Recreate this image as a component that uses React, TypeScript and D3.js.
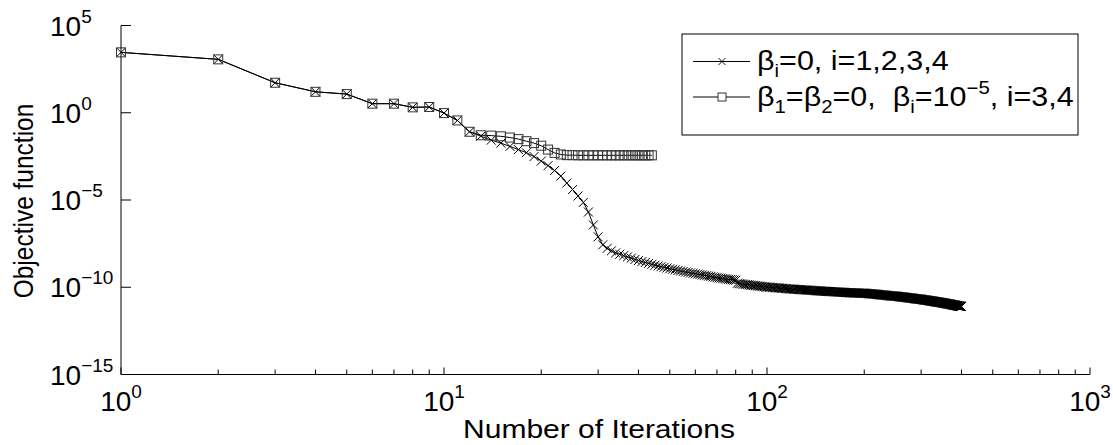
import React from 'react';
import * as d3 from 'd3';

// log10 of objective for series A (beta_i = 0), iterations 1..400
const seriesA_log10: number[] = [
  3.46, 3.06, 1.72, 1.20, 1.07, 0.52, 0.52, 0.31, 0.33, -0.02,
  -0.44, -1.09, -1.34, -1.57, -1.74, -1.93, -2.11, -2.29, -2.51, -2.77,
  -3.03, -3.31, -3.63, -4.03, -4.40, -4.77, -5.14, -5.69, -6.43, -7.11,
  -7.57, -7.77, -7.91, -8.03, -8.11, -8.19, -8.26, -8.33, -8.41, -8.47,
  -8.53, -8.58, -8.63, -8.69, -8.74, -8.78, -8.82, -8.86, -8.90, -8.94,
  -8.97, -9.00, -9.04, -9.07, -9.10, -9.13, -9.15, -9.18, -9.20, -9.23,
  -9.25, -9.27, -9.30, -9.32, -9.34, -9.36, -9.38, -9.41, -9.43, -9.45,
  -9.47, -9.48, -9.50, -9.52, -9.53, -9.55, -9.56, -9.57, -9.59, -9.60,
  -9.77, -9.79, -9.80, -9.82, -9.83, -9.84, -9.85, -9.86, -9.88, -9.89,
  -9.90, -9.91, -9.92, -9.93, -9.94, -9.95, -9.96, -9.97, -9.98, -9.99,
  -9.99, -10.00, -10.01, -10.01, -10.02, -10.03, -10.03, -10.04, -10.04, -10.05,
  -10.06, -10.06, -10.07, -10.07, -10.08, -10.09, -10.09, -10.10, -10.10, -10.11,
  -10.11, -10.12, -10.12, -10.13, -10.13, -10.13, -10.14, -10.14, -10.15, -10.15,
  -10.15, -10.16, -10.16, -10.17, -10.17, -10.17, -10.18, -10.18, -10.19, -10.19,
  -10.19, -10.20, -10.20, -10.21, -10.21, -10.21, -10.22, -10.22, -10.23, -10.23,
  -10.23, -10.23, -10.24, -10.24, -10.24, -10.25, -10.25, -10.25, -10.25, -10.26,
  -10.26, -10.26, -10.27, -10.27, -10.27, -10.27, -10.28, -10.28, -10.28, -10.29,
  -10.29, -10.29, -10.29, -10.30, -10.30, -10.30, -10.31, -10.31, -10.31, -10.31,
  -10.32, -10.32, -10.32, -10.32, -10.33, -10.33, -10.33, -10.33, -10.33, -10.33,
  -10.33, -10.33, -10.33, -10.34, -10.34, -10.34, -10.34, -10.34, -10.34, -10.34,
  -10.35, -10.35, -10.35, -10.36, -10.36, -10.36, -10.37, -10.37, -10.37, -10.38,
  -10.38, -10.38, -10.39, -10.39, -10.39, -10.40, -10.40, -10.41, -10.41, -10.41,
  -10.42, -10.42, -10.42, -10.43, -10.43, -10.44, -10.44, -10.44, -10.45, -10.45,
  -10.45, -10.46, -10.46, -10.47, -10.47, -10.47, -10.48, -10.48, -10.48, -10.49,
  -10.49, -10.49, -10.50, -10.50, -10.50, -10.50, -10.51, -10.51, -10.51, -10.51,
  -10.52, -10.52, -10.52, -10.53, -10.53, -10.53, -10.54, -10.54, -10.55, -10.55,
  -10.55, -10.56, -10.56, -10.56, -10.57, -10.57, -10.58, -10.58, -10.58, -10.59,
  -10.59, -10.59, -10.60, -10.60, -10.61, -10.61, -10.61, -10.62, -10.62, -10.62,
  -10.63, -10.63, -10.64, -10.64, -10.64, -10.65, -10.65, -10.66, -10.66, -10.66,
  -10.67, -10.67, -10.67, -10.68, -10.68, -10.68, -10.69, -10.69, -10.69, -10.69,
  -10.70, -10.70, -10.71, -10.71, -10.72, -10.72, -10.72, -10.73, -10.73, -10.74,
  -10.74, -10.74, -10.75, -10.75, -10.76, -10.76, -10.76, -10.77, -10.77, -10.78,
  -10.78, -10.78, -10.79, -10.79, -10.80, -10.80, -10.81, -10.81, -10.81, -10.82,
  -10.82, -10.83, -10.83, -10.83, -10.84, -10.84, -10.85, -10.85, -10.85, -10.86,
  -10.86, -10.87, -10.87, -10.87, -10.88, -10.88, -10.88, -10.89, -10.89, -10.89,
  -10.90, -10.90, -10.91, -10.91, -10.92, -10.92, -10.93, -10.93, -10.93, -10.94,
  -10.94, -10.95, -10.95, -10.96, -10.96, -10.96, -10.97, -10.97, -10.98, -10.98,
  -10.99, -10.99, -10.99, -11.00, -11.00, -11.01, -11.01, -11.02, -11.02, -11.02,
  -11.03, -11.03, -11.04, -11.04, -11.05, -11.05, -11.05, -11.06, -11.06, -11.07,
  -11.07, -11.07, -11.08, -11.08, -11.09, -11.09, -11.09, -11.10, -11.10, -11.10,
];

// log10 of objective for series B (beta1=beta2=0, beta_i=1e-5), iterations 1..44
const seriesB_log10: number[] = [
  3.46, 3.06, 1.72, 1.20, 1.07, 0.52, 0.52, 0.31, 0.33, -0.02,
  -0.44, -1.09, -1.29, -1.31, -1.35, -1.42, -1.51, -1.63, -1.74, -1.89,
  -2.11, -2.30, -2.39, -2.43, -2.43, -2.44, -2.44, -2.44, -2.44, -2.44,
  -2.44, -2.44, -2.44, -2.44, -2.44, -2.44, -2.44, -2.44, -2.44, -2.44,
  -2.44, -2.44, -2.44, -2.44,
];

const xTickExponents = [0, 1, 2, 3];
const yTickExponents = [5, 0, -5, -10, -15];
const legendLabels = ['A', 'B'];

const W = 1113;
const H = 445;
const left = 121;
const right = 1090;
const top = 25.5;
const bottom = 374.5;
const FONT = '"Liberation Sans", Arial, Helvetica, sans-serif';

const fmtExp = (e: number) => (e < 0 ? '\u2212' + Math.abs(e) : String(e));

export default function App() {
  const x = d3.scaleLog().domain([1, 1000]).range([left, right]);
  const y = d3.scaleLog().domain([1e-15, 1e5]).range([bottom, top]);

  const ptsA = seriesA_log10.map((v, i) => [i + 1, Math.pow(10, v)] as [number, number]);
  const ptsB = seriesB_log10.map((v, i) => [i + 1, Math.pow(10, v)] as [number, number]);
  const line = d3
    .line<[number, number]>()
    .x((d) => x(d[0]))
    .y((d) => y(d[1]));

  const minorTicks: number[] = [];
  for (let dec = 0; dec < 3; dec++) {
    for (let m = 2; m <= 9; m++) minorTicks.push(m * Math.pow(10, dec));
  }

  const xs = 4.5;
  const sq = 4.5;

  const xMarkerPath = ptsA
    .map((d) => {
      const cx = x(d[0]);
      const cy = y(d[1]);
      return `M${cx - xs},${cy - xs}L${cx + xs},${cy + xs}M${cx - xs},${cy + xs}L${cx + xs},${cy - xs}`;
    })
    .join('');

  const sub = 18;
  const base = 27;
  const lx = 757;

  return (
    <div style={{ position: 'fixed', left: 0, top: 0 }}>
      <svg width={W} height={H} style={{ display: 'block', background: '#fff' }} fontFamily={FONT}>
        <rect x={0} y={0} width={W} height={H} fill="#fff" />
        {/* series A line + x markers */}
        <path d={line(ptsA) || ''} fill="none" stroke="#000" strokeWidth={1} />
        <path d={xMarkerPath} fill="none" stroke="#000" strokeWidth={1} />
        {/* series B line + square markers */}
        <path d={line(ptsB) || ''} fill="none" stroke="#000" strokeWidth={1} />
        {ptsB.map((d, i) => (
          <rect
            key={i}
            x={x(d[0]) - sq}
            y={y(d[1]) - sq}
            width={sq * 2}
            height={sq * 2}
            fill="none"
            stroke="#333"
            strokeWidth={1}
          />
        ))}

        {/* axes */}
        <line x1={left} x2={left} y1={top} y2={bottom} stroke="#000" strokeWidth={1} />
        <line x1={left} x2={right} y1={bottom} y2={bottom} stroke="#000" strokeWidth={1} />
        {yTickExponents.map((e) => (
          <line key={'yt' + e} x1={left} x2={left + 10} y1={y(Math.pow(10, e))} y2={y(Math.pow(10, e))} stroke="#000" />
        ))}
        {xTickExponents.map((e) => (
          <line key={'xt' + e} x1={x(Math.pow(10, e))} x2={x(Math.pow(10, e))} y1={bottom} y2={bottom - 7} stroke="#000" />
        ))}
        {minorTicks.map((t) => (
          <line key={'xm' + t} x1={x(t)} x2={x(t)} y1={bottom} y2={bottom - 5} stroke="#000" />
        ))}

        {/* y tick labels */}
        {yTickExponents.map((e) => (
          <text key={'yl' + e} x={50} y={y(Math.pow(10, e)) + 10} fontSize={28} fill="#000">
            10
            <tspan dy={-13} fontSize={19}>
              {fmtExp(e)}
            </tspan>
          </text>
        ))}
        {/* x tick labels */}
        {xTickExponents.map((e) => (
          <text key={'xl' + e} x={x(Math.pow(10, e))} y={411} fontSize={28} textAnchor="middle" fill="#000">
            10
            <tspan dy={-13} fontSize={19}>
              {fmtExp(e)}
            </tspan>
          </text>
        ))}

        {/* axis labels */}
        <text
          x={463}
          y={438}
          fontSize={25}
          textLength={272}
          lengthAdjust="spacingAndGlyphs"
          fill="#000"
        >
          Number of Iterations
        </text>
        <g transform="translate(33,0) scale(1.12,1) translate(-33,0)">
          <text transform="translate(33,201) rotate(-90)" fontSize={24.5} textAnchor="middle" fill="#000">
            Objective function
          </text>
        </g>

        {/* legend */}
        <rect x={682} y={34} width={396} height={101} fill="#fff" stroke="#000" strokeWidth={1} />
        {legendLabels.map((k, i) => {
          const ly = 61.5 + i * 35.5;
          return (
            <g key={k}>
              <line x1={693} x2={750} y1={ly} y2={ly} stroke="#000" />
              {i === 0 ? (
                <path
                  d={`M${722 - 3.5},${ly - 3.5}L${722 + 3.5},${ly + 3.5}M${722 - 3.5},${ly + 3.5}L${722 + 3.5},${ly - 3.5}`}
                  stroke="#111"
                  fill="none"
                />
              ) : (
                <rect x={722 - 4} y={ly - 4} width={8} height={8} fill="#fff" stroke="#333" />
              )}
              <g transform={`translate(${lx},0) scale(1.13,1) translate(${-lx},0)`}>
                {i === 0 ? (
                  <text x={lx} y={ly + 9} fontSize={base} fill="#000">
                    β<tspan dy={7} fontSize={sub}>i</tspan>
                    <tspan dy={-7}>=0, i=1,2,3,4</tspan>
                  </text>
                ) : (
                  <text x={lx} y={ly + 9} fontSize={base} fill="#000">
                    β<tspan dy={7} fontSize={sub}>1</tspan>
                    <tspan dy={-7}>=β</tspan>
                    <tspan dy={7} fontSize={sub}>2</tspan>
                    <tspan dy={-7}>{'=0,\u00a0\u00a0β'}</tspan>
                    <tspan dy={7} fontSize={sub}>i</tspan>
                    <tspan dy={-7}>=10</tspan>
                    <tspan dy={-12} fontSize={sub}>{'\u22125'}</tspan>
                    <tspan dy={12}>, i=3,4</tspan>
                  </text>
                )}
              </g>
            </g>
          );
        })}
      </svg>
    </div>
  );
}
